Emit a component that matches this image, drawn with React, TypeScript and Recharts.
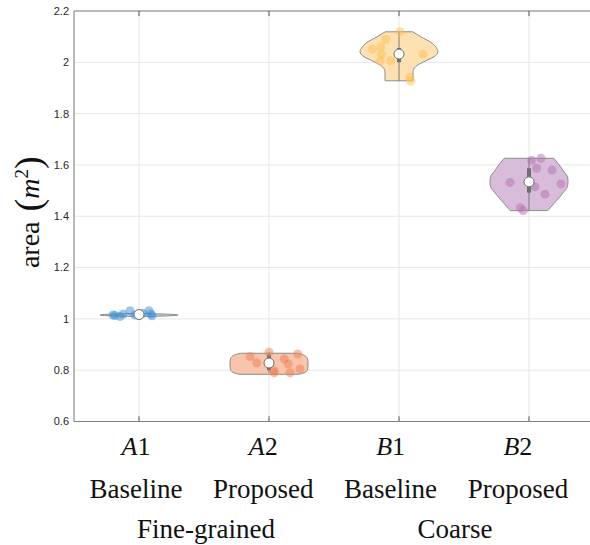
import React from "react";
import {
  ComposedChart,
  Area,
  XAxis,
  YAxis,
  CartesianGrid,
  ReferenceDot,
  ReferenceLine,
} from "recharts";

const categories = ["A1", "A2", "B1", "B2"];
const methods = ["Baseline", "Proposed", "Baseline", "Proposed"];
const groups = ["Fine-grained", "Coarse"];
const yTicks = [0.6, 0.8, 1, 1.2, 1.4, 1.6, 1.8, 2, 2.2];

// violin outlines: area levels and half widths (category units)
const a1Levels = [1.009, 1.012, 1.015, 1.018, 1.021];
const a1Widths = [0.02, 0.24, 0.3, 0.24, 0.02];
const a2Levels = [0.784, 0.79, 0.8, 0.815, 0.83, 0.845, 0.855, 0.862, 0.866];
const a2Widths = [0.23, 0.27, 0.295, 0.3, 0.3, 0.295, 0.28, 0.25, 0.22];
const b1Levels = [1.928, 1.963, 1.983, 2.002, 2.022, 2.041, 2.058, 2.074, 2.1, 2.119];
const b1Widths = [0.107, 0.108, 0.128, 0.19, 0.27, 0.3, 0.285, 0.256, 0.167, 0.105];
const b2Levels = [1.422, 1.46, 1.49, 1.515, 1.535, 1.55, 1.58, 1.605, 1.626];
const b2Widths = [0.144, 0.21, 0.26, 0.295, 0.3, 0.298, 0.26, 0.225, 0.19];

// raw samples (value) and their horizontal jitter
const a1Values = [1.015, 1.013, 1.009, 1.019, 1.032, 1.015, 1.022, 1.032, 1.019, 1.012];
const a1Jitter = [-0.2, -0.185, -0.146, -0.123, -0.069, -0.031, 0.03, 0.077, 0.092, 0.1];
const a2Values = [0.853, 0.829, 0.87, 0.798, 0.79, 0.844, 0.824, 0.79, 0.863, 0.805];
const a2Jitter = [-0.146, -0.095, 0, 0.038, 0.04, 0.118, 0.148, 0.162, 0.221, 0.238];
const b1Values = [2.051, 2.061, 2.032, 2.005, 2.09, 2.006, 2.119, 1.942, 1.927, 2.032];
const b1Jitter = [-0.205, -0.141, -0.135, -0.145, -0.102, -0.064, 0.008, 0.082, 0.09, 0.185];
const b2Values = [1.532, 1.433, 1.422, 1.618, 1.515, 1.587, 1.626, 1.486, 1.58, 1.526];
const b2Jitter = [-0.146, -0.067, -0.044, 0.02, 0.046, 0.059, 0.092, 0.123, 0.177, 0.246];

const medians = [1.017, 0.828, 2.032, 1.534];
const boxLow = [1.013, 0.8, 2.0, 1.492];
const boxHigh = [1.021, 0.86, 2.056, 1.587];
const minVals = [1.009, 0.79, 1.927, 1.422];
const maxVals = [1.032, 0.87, 2.119, 1.626];

const violins = [
  { key: "a1", center: 0, levels: a1Levels, widths: a1Widths, values: a1Values, jitter: a1Jitter, fill: "#b6d3ee", dot: "#3d8fd1" },
  { key: "a2", center: 1, levels: a2Levels, widths: a2Widths, values: a2Values, jitter: a2Jitter, fill: "#f8c4ab", dot: "#ec7f52" },
  { key: "b1", center: 2, levels: b1Levels, widths: b1Widths, values: b1Values, jitter: b1Jitter, fill: "#fee1b2", dot: "#fbbf4f" },
  { key: "b2", center: 3, levels: b2Levels, widths: b2Widths, values: b2Values, jitter: b2Jitter, fill: "#d9bcd9", dot: "#b172b3" },
];

const violinRows = (v: any) =>
  v.levels.map((lv: number, i: number) => ({
    y: lv,
    band: [v.center - v.widths[i], v.center + v.widths[i]],
  }));

const serif = "'Liberation Serif', 'Times New Roman', serif";
const sans = "'Liberation Sans', Arial, sans-serif";
const outline = "#8c8c8c";
const axisGray = "#808080";

const CatTick = (props: any) => {
  const { x, y, payload } = props;
  const i = Math.round(payload.value);
  const name = categories[i];
  const shift = -3 - 2.7 * i;
  return (
    <g>
      <text x={x + shift} y={y + 31} textAnchor="middle" fontFamily={serif} fontSize={26} fill="#111">
        <tspan fontStyle="italic">{name[0]}</tspan>
        <tspan>{name.slice(1)}</tspan>
      </text>
      <text x={x + shift} y={y + 74} textAnchor="middle" fontFamily={serif} fontSize={27} fill="#111">
        {methods[i]}
      </text>
    </g>
  );
};

const GroupTick = (props: any) => {
  const { x, y, payload } = props;
  const i = Math.round(payload.value - 0.5) / 2;
  const shift = i === 0 ? 2 : -9;
  return (
    <text x={x + shift} y={y + 30} textAnchor="middle" fontFamily={serif} fontSize={27} fill="#111">
      {groups[i]}
    </text>
  );
};

const YLabel = (props: any) => {
  const vb = props.viewBox || { x: 0, y: 11, width: 74, height: 410 };
  const cx = vb.x + 38.5;
  const cy = vb.y + vb.height / 2 - 4;
  return (
    <text
      x={cx}
      y={cy}
      transform={`rotate(-90, ${cx}, ${cy})`}
      textAnchor="middle"
      fontFamily={serif}
      fontSize={28}
      fill="#111"
    >
      <tspan>area</tspan>
      <tspan dx={10} fontSize={38} dy={2}>(</tspan>
      <tspan fontStyle="italic" dy={-2}>m</tspan>
      <tspan fontSize={19} dy={-11}>2</tspan>
      <tspan fontSize={38} dy={13}>)</tspan>
    </text>
  );
};

export default function App() {
  return (
    <div style={{ position: "absolute", left: 0, top: 0, width: 590, height: 545, overflow: "hidden", background: "#fff" }}>
      <ComposedChart
        width={600}
        height={545}
        layout="vertical"
        margin={{ top: 11, right: 6, left: 0, bottom: 0 }}
      >
        <CartesianGrid stroke="#e6e6e6" />
        <XAxis
          type="number"
          domain={[-0.5, 3.5]}
          ticks={[0, 1, 2, 3]}
          allowDataOverflow
          height={84}
          tickSize={0}
          tickLine={false}
          axisLine={{ stroke: axisGray }}
          tick={<CatTick />}
          interval={0}
        />
        <XAxis
          xAxisId="grp"
          type="number"
          domain={[-0.5, 3.5]}
          ticks={[0.5, 2.5]}
          allowDataOverflow
          height={39.5}
          tickSize={0}
          tickLine={false}
          axisLine={false}
          tick={<GroupTick />}
          interval={0}
        />
        <YAxis
          type="number"
          dataKey="y"
          domain={[0.6, 2.2]}
          ticks={yTicks}
          allowDataOverflow
          reversed
          width={74}
          tickSize={0}
          tickMargin={5}
          tickLine={false}
          axisLine={{ stroke: axisGray }}
          tick={{ fontFamily: sans, fontSize: 11, fill: "#262626" }}
          label={<YLabel />}
        />
        {violins.map((v) => (
          <Area
            key={v.key}
            data={violinRows(v)}
            dataKey="band"
            type="monotone"
            fill={v.fill}
            fillOpacity={1}
            stroke={outline}
            strokeWidth={1}
            dot={false}
            activeDot={false}
            isAnimationActive={false}
          />
        ))}
        <ReferenceLine y={2.2} stroke={axisGray} ifOverflow="visible" />
        {categories.map((c, i) => [
          <ReferenceLine
            key={c + "tt"}
            segment={[{ x: i, y: 2.2 }, { x: i, y: 2.18 }]}
            stroke="#555"
            ifOverflow="visible"
          />,
          <ReferenceLine
            key={c + "bt"}
            segment={[{ x: i, y: 0.6 }, { x: i, y: 0.62 }]}
            stroke="#555"
            ifOverflow="visible"
          />,
        ])}
        {violins.map((v) => {
          const n = v.levels.length - 1;
          return [
            <ReferenceLine
              key={v.key + "lo"}
              segment={[
                { x: v.center - v.widths[0], y: v.levels[0] },
                { x: v.center + v.widths[0], y: v.levels[0] },
              ]}
              stroke={outline}
              ifOverflow="visible"
            />,
            <ReferenceLine
              key={v.key + "hi"}
              segment={[
                { x: v.center - v.widths[n], y: v.levels[n] },
                { x: v.center + v.widths[n], y: v.levels[n] },
              ]}
              stroke={outline}
              ifOverflow="visible"
            />,
            <ReferenceLine
              key={v.key + "wh"}
              segment={[
                { x: v.center, y: minVals[v.center] },
                { x: v.center, y: maxVals[v.center] },
              ]}
              stroke="#7a7a7a"
              ifOverflow="visible"
            />,
            <ReferenceLine
              key={v.key + "box"}
              segment={[
                { x: v.center, y: boxLow[v.center] },
                { x: v.center, y: boxHigh[v.center] },
              ]}
              stroke="#6e6e6e"
              strokeWidth={4}
              ifOverflow="visible"
            />,
          ];
        })}
        {violins.map((v) =>
          v.values.map((val, i) => (
            <ReferenceDot
              key={v.key + "p" + i}
              x={v.center + v.jitter[i]}
              y={val}
              r={4.5}
              fill={v.dot}
              fillOpacity={0.5}
              stroke="none"
              ifOverflow="visible"
            />
          ))
        )}
        {medians.map((m, i) => (
          <ReferenceDot
            key={"med" + i}
            x={i}
            y={m}
            r={5}
            fill="#ffffff"
            stroke="#6e6e6e"
            strokeWidth={1}
            ifOverflow="visible"
          />
        ))}
      </ComposedChart>
    </div>
  );
}
